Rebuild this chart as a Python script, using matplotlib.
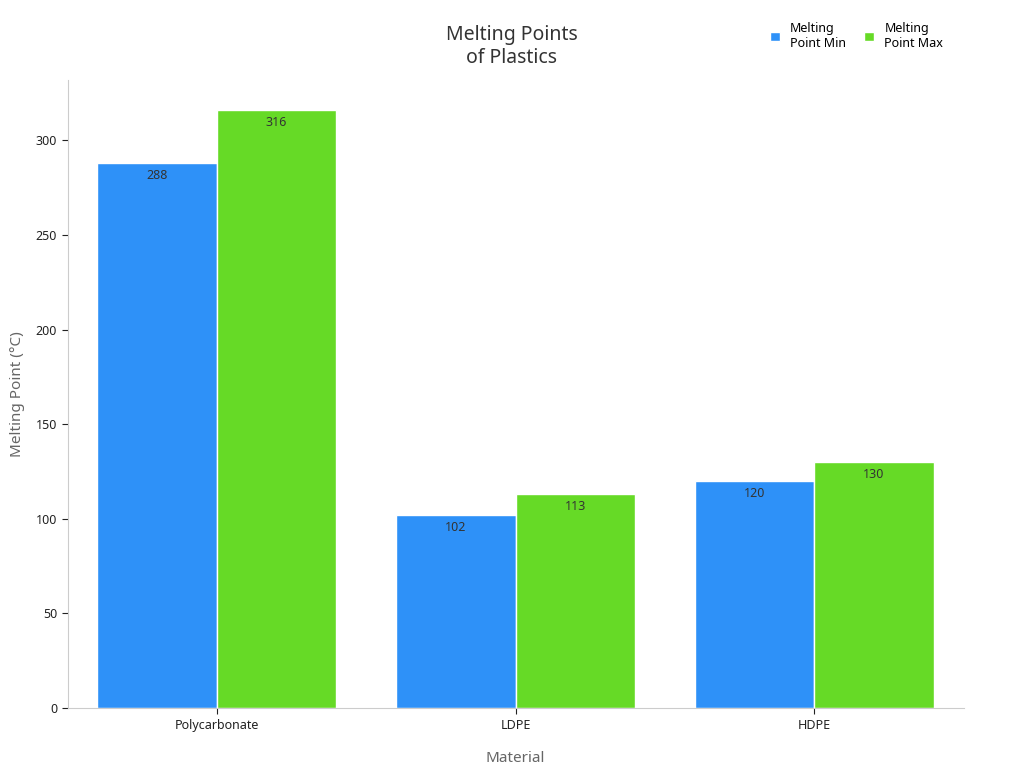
import matplotlib
matplotlib.use("Agg")
import matplotlib.pyplot as plt
import numpy as np

materials = ["Polycarbonate", "LDPE", "HDPE"]
mp_min = [288, 102, 120]
mp_max = [316, 113, 130]
series = ["Melting\nPoint Min", "Melting\nPoint Max"]
colors = ["#2e91f8", "#66da26"]

plt.rcParams['font.family'] = ['Noto Sans', 'DejaVu Sans']
fig = plt.figure(figsize=(10.24, 7.68), dpi=100)
ax = fig.add_axes([0.066, 0.078, 0.875, 0.818])
x = np.arange(len(materials))
w = 0.4
for i, (vals, c, lab) in enumerate(zip([mp_min, mp_max], colors, series)):
    bars = ax.bar(x + (i - 0.5) * w, vals, w, color=c, edgecolor="white", linewidth=1, label=lab)
    for b, v in zip(bars, vals):
        ax.text(b.get_x() + b.get_width() / 2, v - 3, str(v), ha="center", va="top", fontsize=9, color="#333333")
ax.set_xlim(-0.5, 2.5)
ax.set_ylim(0, 332)
ax.set_xticks(x)
ax.set_xticklabels(materials, fontsize=9, color="#222222")
ax.set_yticks(range(0, 301, 50))
ax.tick_params(axis='y', labelsize=9, colors="#222222")
ax.tick_params(colors="#222222", length=4)
for t in ax.get_xticklabels() + ax.get_yticklabels():
    t.set_color("#222222")
for s in ["top", "right"]:
    ax.spines[s].set_visible(False)
for s in ["left", "bottom"]:
    ax.spines[s].set_color("#cccccc")
ax.set_xlabel("Material", fontsize=11, color="#666666", labelpad=14)
ax.set_ylabel("Melting Point (°C)", fontsize=11, color="#666666", labelpad=8)
fig.text(0.5, 0.94, "Melting Points\nof Plastics", ha="center", va="center", fontsize=14, color="#333333")
ax.legend(loc="upper right", bbox_to_anchor=(0.99, 1.11), ncol=2, frameon=False, fontsize=9,
          handlelength=0.8, handleheight=0.8, columnspacing=1.5)
fig.savefig("out.png")
